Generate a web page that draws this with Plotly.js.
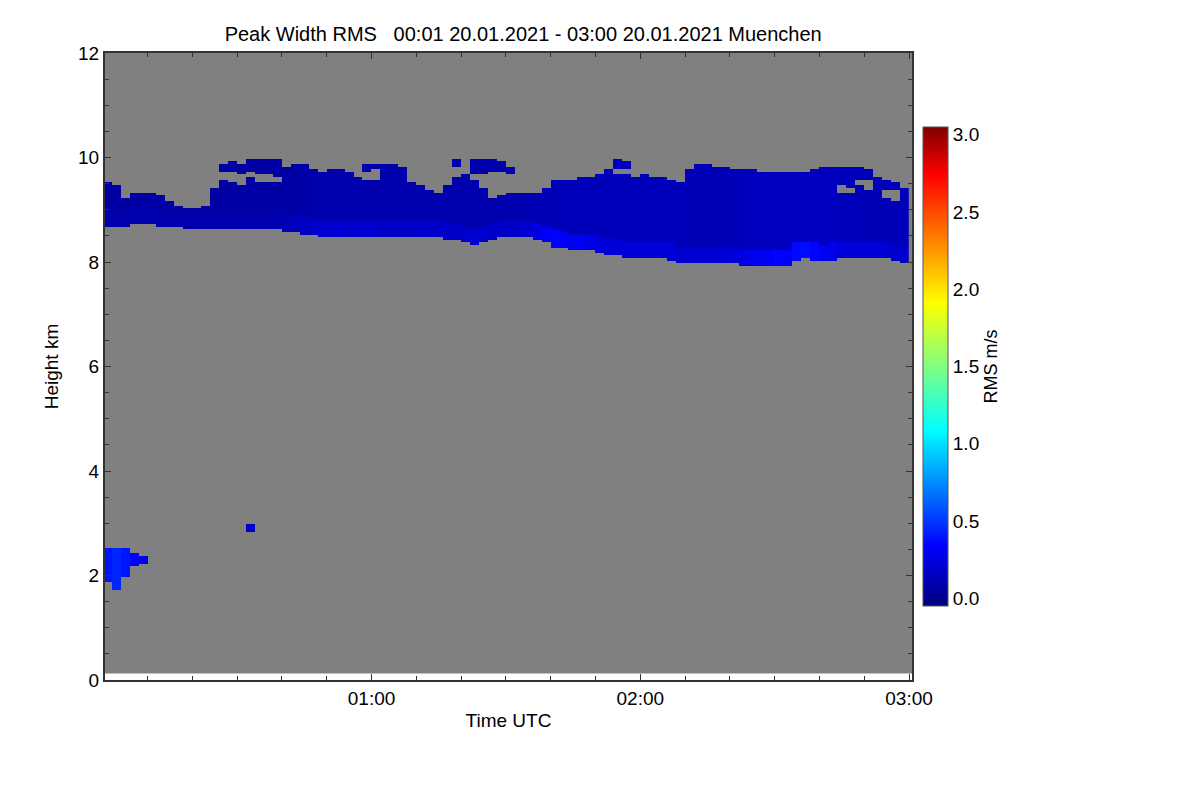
<!DOCTYPE html>
<html>
<head>
<meta charset="utf-8">
<script src="https://cdn.plot.ly/plotly-3.0.1.min.js"></script>
<style>html,body{margin:0;padding:0;background:#fff;}#chart{width:1200px;height:800px;}</style>
</head>
<body>
<div id="chart"></div>
<script>
// ---- data ----
// 2-minute columns, centre minute after 00:00 UTC
const columnMinutes = [1,3,5,7,9,11,13,15,17,19,21,23,25,27,29,31,33,35,37,39,41,43,45,47,49,51,53,55,57,59,
  61,63,65,67,69,71,73,75,77,79,81,83,85,87,89,91,93,95,97,99,101,103,105,107,109,111,113,115,117,119,
  121,123,125,127,129,131,133,135,137,139,141,143,145,147,149,151,153,155,157,159,161,163,165,167,169,171,173,175,177,179];
// cloud base (km)
const cloudBase = [8.66,8.68,8.70,8.72,8.73,8.73,8.70,8.68,8.66,8.65,8.64,8.63,8.62,8.62,8.62,8.63,8.62,8.62,8.62,8.62,
  8.60,8.58,8.55,8.52,8.50,8.49,8.48,8.48,8.48,8.48,8.48,8.47,8.47,8.46,8.46,8.46,8.46,8.46,8.45,8.42,
  8.38,8.35,8.36,8.45,8.48,8.48,8.48,8.48,8.45,8.38,8.30,8.27,8.25,8.23,8.22,8.20,8.15,8.12,8.10,8.10,
  8.09,8.08,8.08,8.05,8.00,7.98,7.98,7.98,7.98,7.97,7.96,7.95,7.94,7.94,7.93,7.93,7.95,8.05,8.07,8.05,
  8.04,8.05,8.06,8.07,8.07,8.07,8.07,8.06,8.03,7.98];
// cloud top (km)
const cloudTop = [9.50,9.45,9.22,9.32,9.33,9.32,9.28,9.15,9.05,9.00,9.02,9.05,9.40,9.85,9.90,9.85,9.95,9.98,9.95,9.95,
  9.80,9.85,9.88,9.75,9.72,9.75,9.78,9.72,9.60,9.86,9.86,9.85,9.85,9.80,9.50,9.45,9.35,9.33,9.45,9.95,
  9.65,9.95,9.97,9.95,9.90,9.80,9.33,9.33,9.33,9.40,9.55,9.57,9.55,9.60,9.62,9.65,9.75,9.95,9.90,9.60,
  9.65,9.62,9.60,9.55,9.50,9.75,9.85,9.85,9.82,9.80,9.78,9.75,9.75,9.72,9.72,9.74,9.70,9.72,9.72,9.75,
  9.80,9.82,9.80,9.82,9.80,9.78,9.60,9.55,9.50,9.42];
// empty gaps inside the cloud (km), null = none
const gapLow = [null,null,null,null,null,null,null,null,null,null,null,null,null,9.55,9.50,9.45,9.60,9.50,9.50,9.50,
  null,null,null,null,null,null,null,null,null,9.58,9.55,null,null,null,null,null,null,null,null,9.62,
  null,9.55,9.40,9.20,9.25,9.30,null,null,null,null,null,null,null,null,null,null,null,9.65,9.65,null,
  null,null,null,null,null,null,null,null,null,null,null,null,null,null,null,null,null,null,null,null,
  null,null,9.30,9.30,9.45,9.35,null,9.20,9.15,null];
const gapHigh = [null,null,null,null,null,null,null,null,null,null,null,null,null,9.75,9.75,9.70,9.75,9.66,9.66,9.65,
  null,null,null,null,null,null,null,null,null,9.75,9.76,null,null,null,null,null,null,null,null,9.85,
  null,9.70,9.70,9.72,9.72,9.68,null,null,null,null,null,null,null,null,null,null,null,9.80,9.80,null,
  null,null,null,null,null,null,null,null,null,null,null,null,null,null,null,null,null,null,null,null,
  null,null,9.50,9.45,9.60,9.58,null,9.40,9.40,null];
// RMS (m/s) in the cloud body and in its lowest part
const coreRms = [0.06,0.06,0.06,0.06,0.06,0.06,0.06,0.06,0.06,0.06,0.06,0.06,0.06,0.06,0.06,0.06,0.06,0.06,0.06,0.06,
  0.07,0.07,0.08,0.08,0.09,0.09,0.09,0.09,0.09,0.09,0.09,0.09,0.09,0.09,0.09,0.09,0.09,0.09,0.09,0.09,
  0.09,0.09,0.09,0.09,0.09,0.10,0.10,0.11,0.12,0.12,0.12,0.12,0.13,0.13,0.13,0.13,0.13,0.13,0.13,0.13,
  0.13,0.13,0.13,0.13,0.13,0.12,0.12,0.12,0.12,0.12,0.13,0.13,0.14,0.14,0.14,0.14,0.14,0.14,0.14,0.14,
  0.14,0.14,0.13,0.13,0.12,0.12,0.12,0.12,0.12,0.12];
const lowRms = [0.09,0.09,0.09,0.09,0.09,0.09,0.09,0.09,0.09,0.09,0.09,0.09,0.09,0.09,0.09,0.10,0.10,0.10,0.10,0.10,
  0.12,0.14,0.16,0.18,0.20,0.20,0.20,0.18,0.20,0.20,0.18,0.17,0.17,0.17,0.17,0.18,0.18,0.17,0.17,0.17,
  0.18,0.20,0.20,0.18,0.17,0.17,0.17,0.20,0.26,0.32,0.35,0.32,0.30,0.32,0.26,0.24,0.22,0.22,0.22,0.22,
  0.22,0.22,0.22,0.22,0.20,0.20,0.20,0.20,0.21,0.21,0.22,0.25,0.28,0.30,0.32,0.35,0.33,0.36,0.38,0.35,
  0.30,0.27,0.24,0.22,0.22,0.22,0.22,0.20,0.20,0.18];
// isolated low echoes: start/end minute, bottom/top km, RMS
const echoStart = [0,2,4,6,8,32];
const echoEnd   = [2,4,6,8,10,34];
const echoLow   = [1.90,1.75,2.00,2.20,2.22,2.82];
const echoHigh  = [2.52,2.53,2.50,2.42,2.35,2.98];
const echoRms   = [0.40,0.45,0.40,0.35,0.30,0.15];
const colorTicks = [0,0.5,1,1.5,2,2.5,3];
const colorTickText = ['0.0','0.5','1.0','1.5','2.0','2.5','3.0'];
const timeTicks = ['2021-01-20 01:00','2021-01-20 02:00','2021-01-20 03:00'];
const timeTickText = ['01:00','02:00','03:00'];

// ---- build the grid ----
function minToTime(m){
  const d = new Date(Date.UTC(2021,0,20,0,0,0) + m*60000);
  const p = n => String(n).padStart(2,'0');
  return d.getUTCFullYear()+'-'+p(d.getUTCMonth()+1)+'-'+p(d.getUTCDate())+' '+p(d.getUTCHours())+':'+p(d.getUTCMinutes())+':'+p(d.getUTCSeconds());
}
const heightBin = 0.05, heightBottom = 0.125, heightTop = 12.0;
const heights = [];
for (let h = heightBottom + heightBin/2; h < heightTop; h += heightBin) heights.push(+h.toFixed(3));
const xs = columnMinutes.map(minToTime);
const z = heights.map(h => columnMinutes.map((m, c) => {
  let v = null;
  if (h >= cloudBase[c] && h <= cloudTop[c]) {
    const inGap = gapLow[c] !== null && h > gapLow[c] && h < gapHigh[c];
    if (!inGap) v = (h < cloudBase[c] + 0.3) ? lowRms[c] : coreRms[c];
  }
  for (let i = 0; i < echoStart.length; i++) {
    if (m > echoStart[i] && m < echoEnd[i] && h >= echoLow[i] && h <= echoHigh[i]) v = echoRms[i];
  }
  return v;
}));

const jet = [[0,'rgb(0,0,128)'],[0.125,'rgb(0,0,255)'],[0.367,'rgb(0,255,255)'],
  [0.5,'rgb(128,255,128)'],[0.633,'rgb(255,255,0)'],[0.9,'rgb(255,0,0)'],[1,'rgb(128,0,0)']];

const fontFam = 'Liberation Sans, Arial, Helvetica, sans-serif';
const trace = {
  type:'heatmap', x: xs, y: heights, z: z, zmin:-0.05, zmax:3.05,
  colorscale: jet, zsmooth:false, hoverongaps:false,
  colorbar:{
    x:1.0012, xanchor:'left', xpad:10, y:0.5, yanchor:'middle', len:0.764, lenmode:'fraction', ypad:0,
    thickness:25, thicknessmode:'pixels', outlinewidth:1, outlinecolor:'#555',
    tickvals:colorTicks, ticktext:colorTickText, ticks:'', ticklabelpad:2,
    tickfont:{family:fontFam,size:19,color:'#000'},
    title:{text:'RMS m/s', side:'right', font:{family:fontFam,size:18,color:'#000'}}
  }
};
const layout = {
  width:1200, height:800,
  margin:{l:105, r:288, t:53, b:120},
  paper_bgcolor:'#fff', plot_bgcolor:'#fff',
  title:{text:'Peak Width RMS\u00a0\u00a0\u00a000:01 20.01.2021 - 03:00 20.01.2021 Muenchen',
    x:0.436, xanchor:'center', y:0.958, yanchor:'middle',
    font:{family:fontFam,size:20,color:'#000'}},
  xaxis:{type:'date', range:['2021-01-20 00:00:30','2021-01-20 03:00:40'],
    tickvals:timeTicks, ticktext:timeTickText, ticks:'inside', ticklen:6, tickcolor:'#333',
    minor:{dtick:600000, ticks:'inside', ticklen:4, tickcolor:'#333'},
    showgrid:false, zeroline:false, showline:true, linecolor:'#333', linewidth:2, mirror:'ticks',
    tickfont:{family:fontFam,size:19,color:'#000'},
    title:{text:'Time UTC', standoff:6, font:{family:fontFam,size:19,color:'#000'}}},
  yaxis:{range:[0,12], tickvals:[0,2,4,6,8,10,12], ticks:'inside', ticklen:6, tickcolor:'#333',
    minor:{dtick:0.5, ticks:'inside', ticklen:4, tickcolor:'#333'},
    showgrid:false, zeroline:false, showline:true, linecolor:'#333', linewidth:2, mirror:'ticks',
    tickfont:{family:fontFam,size:19,color:'#000'},
    title:{text:'Height km', standoff:14, font:{family:fontFam,size:19,color:'#000'}}},
  shapes:[{type:'rect', layer:'below', xref:'paper', x0:0, x1:1, yref:'y',
    y0:heightBottom, y1:heightTop, fillcolor:'#808080', line:{width:0}}]
};
Plotly.newPlot('chart',[trace],layout,{displayModeBar:false, staticPlot:true});
</script>
</body>
</html>
